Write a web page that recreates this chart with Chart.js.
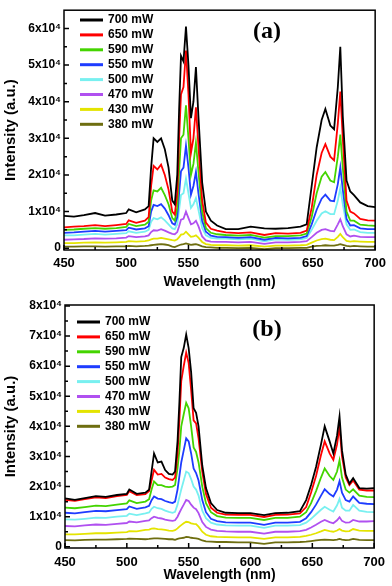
<!DOCTYPE html>
<html>
<head>
<meta charset="utf-8">
<script src="https://cdn.jsdelivr.net/npm/chart.js@4.4.1/dist/chart.umd.min.js"></script>
<style>
  html, body { margin: 0; padding: 0; background: #fff; }
  canvas { display: block; }
</style>
</head>
<body>
<canvas id="panelA" width="392" height="293"></canvas>
<canvas id="panelB" width="392" height="293"></canvas>
<script>
// 波長 (nm)
const wavelengths = [450, 458, 466, 475, 483, 492, 500, 502, 508, 515,
    518, 520, 522, 525, 528, 531, 534, 537, 539, 541,
    542.5, 544, 546, 548, 550, 552, 554, 556, 558, 561,
    564, 568, 573, 580, 590, 600, 611, 620, 630, 640,
    645, 649, 653, 657, 660, 664, 667, 670, 672, 674,
    677, 680, 683, 688, 694, 700];

// 強度 (x10^3 a.u.) パネル (a)
const a700 = [8.8, 8.6, 9.0, 9.6, 8.9, 9.2, 9.6, 10.6, 9.8, 10.6, 11.5, 22, 30, 29, 30, 27, 22, 13, 12, 20, 38, 52.5, 51, 60.5, 50, 35.5, 40, 49.5, 36, 18, 10, 7.5, 6.2, 5.2, 5.2, 5.9, 5.4, 5.3, 5.5, 5.9, 6.5, 17, 27.5, 35, 38, 33.5, 32.5, 44, 55, 36, 18.5, 15.5, 14.5, 12.5, 11.5, 11.2];
const a650 = [5.7, 5.9, 6.0, 6.3, 6.0, 6.3, 6.6, 7.6, 6.9, 7.5, 8.5, 17, 22.5, 21.5, 22.8, 20, 16, 10, 9.2, 15, 30, 42, 44, 54, 42, 26, 30, 38.5, 28, 13, 7, 5.3, 4.8, 4.3, 4.1, 4.3, 3.6, 4.1, 4.0, 4.2, 4.8, 11, 20, 26, 28.4, 25, 24, 34, 42.8, 30, 13, 10, 9.5, 8, 7.6, 7.5];
const a590 = [5.0, 5.1, 5.3, 5.5, 5.3, 5.5, 5.8, 6.6, 6.0, 6.4, 7.2, 13, 15.8, 15.5, 16.5, 14.5, 12, 8.2, 7.5, 11, 21, 30, 31, 39, 30, 20, 23, 28.8, 21, 10, 5.5, 4.2, 3.8, 3.6, 3.4, 3.6, 2.9, 3.3, 3.3, 3.5, 4, 8.5, 15, 19.5, 20.8, 18.5, 18, 25, 31, 22, 10, 7.5, 7.5, 6.4, 6.2, 6.1];
const a550 = [4.2, 4.3, 4.5, 4.7, 4.5, 4.7, 4.9, 5.6, 5.1, 5.4, 6, 10, 11.8, 11.5, 12, 10.8, 9, 6.8, 6.4, 8.5, 15, 21, 22, 28, 22, 14.6, 17, 20.8, 15, 7.5, 4.5, 3.4, 3.1, 3, 2.8, 3, 2.3, 2.8, 2.7, 2.8, 3.3, 6.5, 10.5, 13.5, 14.6, 13, 12.8, 17.5, 22.1, 16, 8, 6.2, 6.3, 5.4, 5.2, 5.2];
const a500 = [3.5, 3.5, 3.7, 3.9, 3.7, 3.9, 4.1, 4.6, 4.2, 4.5, 5, 7.2, 8.2, 7.9, 8.4, 7.6, 6.5, 5.4, 5.2, 6.5, 10.5, 14.5, 15, 19, 15, 11, 12, 13.7, 10.5, 5.5, 3.5, 2.8, 2.6, 2.6, 2.4, 2.6, 1.9, 2.4, 2.3, 2.4, 2.8, 5, 7.5, 9.5, 10.1, 9.3, 9.3, 13, 16.5, 12, 6.5, 5, 5.1, 4.4, 4.2, 4.2];
const a470 = [2.3, 2.4, 2.5, 2.7, 2.6, 2.7, 2.9, 3.3, 3.0, 3.2, 3.5, 4.4, 4.9, 4.8, 5.2, 4.8, 4.3, 3.9, 3.8, 4.4, 6, 7.8, 8, 10, 8.2, 6.5, 6.8, 7.5, 6, 3.2, 2.1, 1.8, 1.7, 1.7, 1.6, 1.7, 1.2, 1.6, 1.6, 1.7, 1.9, 3, 4.2, 5, 5.2, 4.7, 4.6, 6.5, 7.9, 6, 3.8, 3.2, 3.4, 3.1, 3, 3];
const a430 = [1.4, 1.4, 1.5, 1.6, 1.5, 1.6, 1.7, 1.9, 1.8, 1.9, 2.1, 2.4, 2.6, 2.6, 2.8, 2.6, 2.4, 2.2, 2.1, 2.4, 3, 3.7, 3.8, 4.5, 3.8, 3.1, 3.2, 3.5, 2.9, 1.7, 1.1, 0.9, 0.8, 0.8, 0.7, 0.8, 0.4, 0.7, 0.7, 0.8, 0.9, 1.5, 2.1, 2.5, 2.6, 2.3, 2.2, 3.1, 3.9, 3, 2, 1.8, 1.9, 1.8, 1.7, 1.7];
const a380 = [0.4, 0.4, 0.5, 0.5, 0.4, 0.5, 0.5, 0.6, 0.5, 0.6, 0.7, 0.8, 0.9, 1.0, 1.1, 1.0, 0.8, 0.4, 0.3, 0.6, 0.8, 1.0, 1.1, 1.3, 1.1, 0.9, 1.0, 1.1, 0.9, 0.5, 0.3, 0.2, 0.1, 0.1, 0.0, 0.1, -0.3, 0.0, 0.0, 0.1, 0.1, 0.4, 0.6, 0.7, 0.8, 0.7, 0.7, 0.9, 1.1, 0.9, 0.6, 0.5, 0.6, 0.5, 0.4, 0.4];

// 強度 (x10^3 a.u.) パネル (b)
const b700 = [16.1, 15.6, 16.2, 16.8, 16.6, 17.2, 17.6, 19, 17.6, 18, 19, 25, 31, 28, 28.3, 25.5, 24.2, 24, 25, 35, 48, 63, 66, 70.5, 66, 58, 46, 44.5, 40, 27, 19.5, 14.5, 12.2, 11.3, 11.2, 11.2, 10.5, 11.2, 11.3, 11.8, 15.5, 20.5, 26.5, 34, 40, 35, 31, 37, 43.3, 32, 24, 21, 22.8, 19.5, 19.3, 19.5];
const b650 = [15.6, 15.3, 15.8, 16.4, 16.2, 16.8, 17.2, 18.5, 17.2, 17.5, 18.5, 22, 25.6, 24, 24.2, 23, 22.5, 22.2, 23, 31, 42, 55, 60, 64.5, 61, 52, 42, 41, 36, 25, 17.5, 13, 11.3, 10.7, 10.6, 10.6, 9.9, 10.6, 10.7, 11.1, 13.2, 18, 23.5, 30.5, 35, 31, 28.9, 34, 39.8, 30, 23, 20.5, 22, 19, 18.7, 18.7];
const b590 = [13, 12.8, 13.2, 13.7, 13.5, 14, 14.4, 15.4, 14.5, 15, 15.8, 19, 21.7, 20.5, 20.5, 20, 19.8, 20, 20.5, 26, 32, 40, 44, 47.8, 46, 40, 33, 31.5, 28, 20, 14.5, 11.5, 10.2, 9.7, 9.6, 9.6, 8.9, 9.6, 9.6, 10, 11.5, 14.5, 18.5, 23, 26, 23.5, 22.2, 25, 28.7, 23, 19, 18, 19.1, 17, 16.6, 16.5];
const b550 = [11.3, 11.1, 11.5, 11.9, 11.8, 12.2, 12.5, 13.4, 12.6, 13.1, 13.6, 15.5, 16.7, 16, 15.8, 15.2, 14.8, 14.5, 15, 19, 23.5, 28, 32, 36, 35, 31, 26, 24.5, 22, 15.5, 11.5, 9.3, 8.5, 8.1, 8, 8, 7.3, 8, 8, 8.3, 9.5, 11.5, 14, 17, 19.1, 17.5, 16.7, 19, 21.8, 18, 15.5, 15, 16.7, 14.6, 14.3, 14.2];
const b500 = [9.1, 9.0, 9.3, 9.7, 9.6, 10, 10.3, 11, 10.5, 11.1, 11.4, 12.6, 13.3, 12.8, 12.6, 12, 11.6, 11.3, 11.6, 14, 16.5, 19, 22, 25, 24.5, 22.5, 20, 19, 17, 12, 9.5, 8, 7.4, 7.1, 7, 7, 6.3, 7, 7, 7.2, 8, 9.3, 10.8, 12.3, 13.3, 12.3, 11.7, 13.8, 15.9, 13, 12, 12, 13.9, 12, 11.6, 11.5];
const b470 = [6.9, 6.8, 7.1, 7.4, 7.3, 7.6, 7.9, 8.4, 8.1, 8.6, 8.8, 9.5, 10, 9.6, 9.4, 9, 8.8, 8.6, 8.8, 10, 11.3, 12.5, 14, 15.6, 15.2, 14, 13, 12.5, 11.2, 8.2, 6.6, 5.7, 5.3, 5.1, 5, 5, 4.4, 5, 5, 5.2, 5.6, 6.4, 7.3, 8.3, 8.9, 8.2, 7.8, 8.8, 9.8, 8.6, 8, 8.1, 8.9, 8.4, 8.4, 8.5];
const b430 = [4.1, 4.1, 4.3, 4.5, 4.5, 4.7, 4.9, 5.2, 5.1, 5.6, 5.7, 6, 6.1, 5.9, 5.8, 5.6, 5.4, 5.3, 5.5, 6.1, 6.7, 7.2, 7.8, 8.3, 8.2, 7.8, 7.6, 7.5, 6.7, 5, 4, 3.5, 3.3, 3.2, 3.1, 3.1, 2.6, 3.1, 3.1, 3.3, 3.6, 4, 4.5, 5.1, 5.6, 5.2, 5, 5.4, 5.9, 5.4, 5.1, 5.2, 5.9, 5.4, 5.3, 5.3];
const b380 = [2.2, 2.1, 2.3, 2.4, 2.4, 2.5, 2.6, 2.7, 2.6, 2.5, 2.6, 2.7, 2.8, 2.8, 2.7, 2.6, 2.5, 2.5, 2.3, 2.6, 2.8, 2.9, 3.0, 3.3, 3.2, 3, 2.9, 2.8, 2.6, 2.1, 1.8, 1.7, 1.6, 1.6, 1.5, 1.5, 1.0, 1.5, 1.5, 1.6, 1.7, 1.9, 2.1, 2.3, 2.4, 2.3, 2.2, 2.4, 2.6, 2.4, 2.2, 2.3, 2.6, 2.3, 2.2, 2.2];

// 凡例
const seriesLabels = ['700 mW', '650 mW', '590 mW', '550 mW', '500 mW', '470 mW', '430 mW', '380 mW'];
const seriesColors = ['#000000', '#ff0000', '#44d400', '#1e3cff', '#78f0f0', '#b050f0', '#e4e400', '#6e6e10'];

// 目盛り
const xTicks = [450, 500, 550, 600, 650, 700];
const xMinor = [475, 525, 575, 625, 675];
const yTicksA = [0, 10, 20, 30, 40, 50, 60];
const yMinorA = [5, 15, 25, 35, 45, 55];
const yTicksB = [0, 10, 20, 30, 40, 50, 60, 70, 80];
const yMinorB = [5, 15, 25, 35, 45, 55, 65, 75];

Chart.defaults.font.family = '"Liberation Sans", Arial, sans-serif';
Chart.defaults.color = '#000';

// 枠・内向き目盛り・凡例・パネル記号を描くプラグイン
const framePlugin = {
    id: 'frame',
    afterDraw(chart, args, o) {
        const { ctx, chartArea: a, scales: { x, y } } = chart;
        ctx.save();
        ctx.strokeStyle = '#000';
        ctx.lineWidth = 1.5;
        ctx.strokeRect(a.left, a.top, a.right - a.left, a.bottom - a.top);

        ctx.beginPath();
        const tickX = (vals, len) => vals.forEach(v => {
            const px = x.getPixelForValue(v);
            ctx.moveTo(px, a.bottom);
            ctx.lineTo(px, a.bottom - len);
        });
        const tickY = (vals, len) => vals.forEach(v => {
            const py = y.getPixelForValue(v);
            ctx.moveTo(a.left, py);
            ctx.lineTo(a.left + len, py);
        });
        tickX(o.xMajor, 5);
        tickX(o.xMinor, 3);
        tickY(o.yMajor, 5);
        tickY(o.yMinor, 3);
        ctx.stroke();

        // 凡例
        ctx.font = 'bold 12px "Liberation Sans", Arial, sans-serif';
        ctx.textBaseline = 'middle';
        ctx.textAlign = 'left';
        chart.data.datasets.forEach((ds, i) => {
            const ly = o.legendY + i * o.legendStep;
            ctx.strokeStyle = ds.borderColor;
            ctx.lineWidth = 3;
            ctx.beginPath();
            ctx.moveTo(o.legendX, ly);
            ctx.lineTo(o.legendX + o.legendLine, ly);
            ctx.stroke();
            ctx.fillStyle = '#000';
            ctx.fillText(ds.label, o.legendX + o.legendLine + 5, ly);
        });

        // (a) / (b)
        ctx.font = 'bold 24px "Liberation Serif", "Times New Roman", serif';
        ctx.textAlign = 'center';
        ctx.fillText(o.label, o.labelX, o.labelY);
        ctx.restore();
    }
};

function makeDatasets(seriesList) {
    return seriesList.map((vals, i) => ({
        label: seriesLabels[i],
        data: wavelengths.map((w, j) => ({ x: w, y: vals[j] })),
        borderColor: seriesColors[i],
        borderWidth: 1.8,
        pointRadius: 0,
        tension: 0,
        fill: false,
    }));
}

function drawPanel(canvasId, seriesList, cfg) {
    new Chart(document.getElementById(canvasId), {
        type: 'line',
        data: { datasets: makeDatasets(seriesList) },
        plugins: [framePlugin],
        options: {
            responsive: false,
            animation: false,
            layout: { padding: { left: 0, right: 12, top: cfg.top, bottom: 0 } },
            plugins: {
                legend: { display: false },
                tooltip: { enabled: false },
                frame: {
                    xMajor: xTicks, xMinor: xMinor,
                    yMajor: cfg.yTicks, yMinor: cfg.yMinor,
                    legendX: cfg.legendX, legendY: cfg.legendY, legendStep: 14.9, legendLine: 23,
                    label: cfg.label, labelX: 267, labelY: cfg.labelY,
                },
            },
            scales: {
                x: {
                    type: 'linear',
                    min: 450, max: 700,
                    afterBuildTicks: s => { s.ticks = xTicks.map(v => ({ value: v })); },
                    afterFit: s => { s.height = cfg.xHeight; },
                    grid: { display: false, drawTicks: false },
                    border: { display: false },
                    ticks: { font: { size: 13, weight: 'bold' }, padding: cfg.xPad, maxRotation: 0 },
                    title: {
                        display: true, text: 'Wavelength (nm)',
                        font: { size: 14, weight: 'bold' }, padding: { top: 0, bottom: 2 },
                    },
                },
                y: {
                    min: cfg.yMin, max: cfg.yMax,
                    afterBuildTicks: s => { s.ticks = cfg.yTicks.map(v => ({ value: v })); },
                    afterFit: s => { s.width = cfg.left; },
                    grid: { display: false, drawTicks: false },
                    border: { display: false },
                    ticks: {
                        font: { size: 12, weight: 'bold' }, padding: 3,
                        callback: v => v === 0 ? '0' : (v / 10) + 'x10\u2074',
                    },
                    title: {
                        display: true, text: 'Intensity (a.u.)',
                        font: { size: 15, weight: 'bold' }, padding: { top: 2, bottom: 0 },
                    },
                },
            },
        },
    });
}

drawPanel('panelA', [a700, a650, a590, a550, a500, a470, a430, a380], {
    top: 4, xHeight: 43, xPad: 6, left: 64, yMin: -0.5, yMax: 65,
    yTicks: yTicksA, yMinor: yMinorA,
    legendX: 80, legendY: 20, label: '(a)', labelY: 32,
});
drawPanel('panelB', [b700, b650, b590, b550, b500, b470, b430, b380], {
    top: 12, xHeight: 38, xPad: 7, left: 65, yMin: -0.4, yMax: 80.3,
    yTicks: yTicksB, yMinor: yMinorB,
    legendX: 77, legendY: 29, label: '(b)', labelY: 37,
});
</script>
</body>
</html>
